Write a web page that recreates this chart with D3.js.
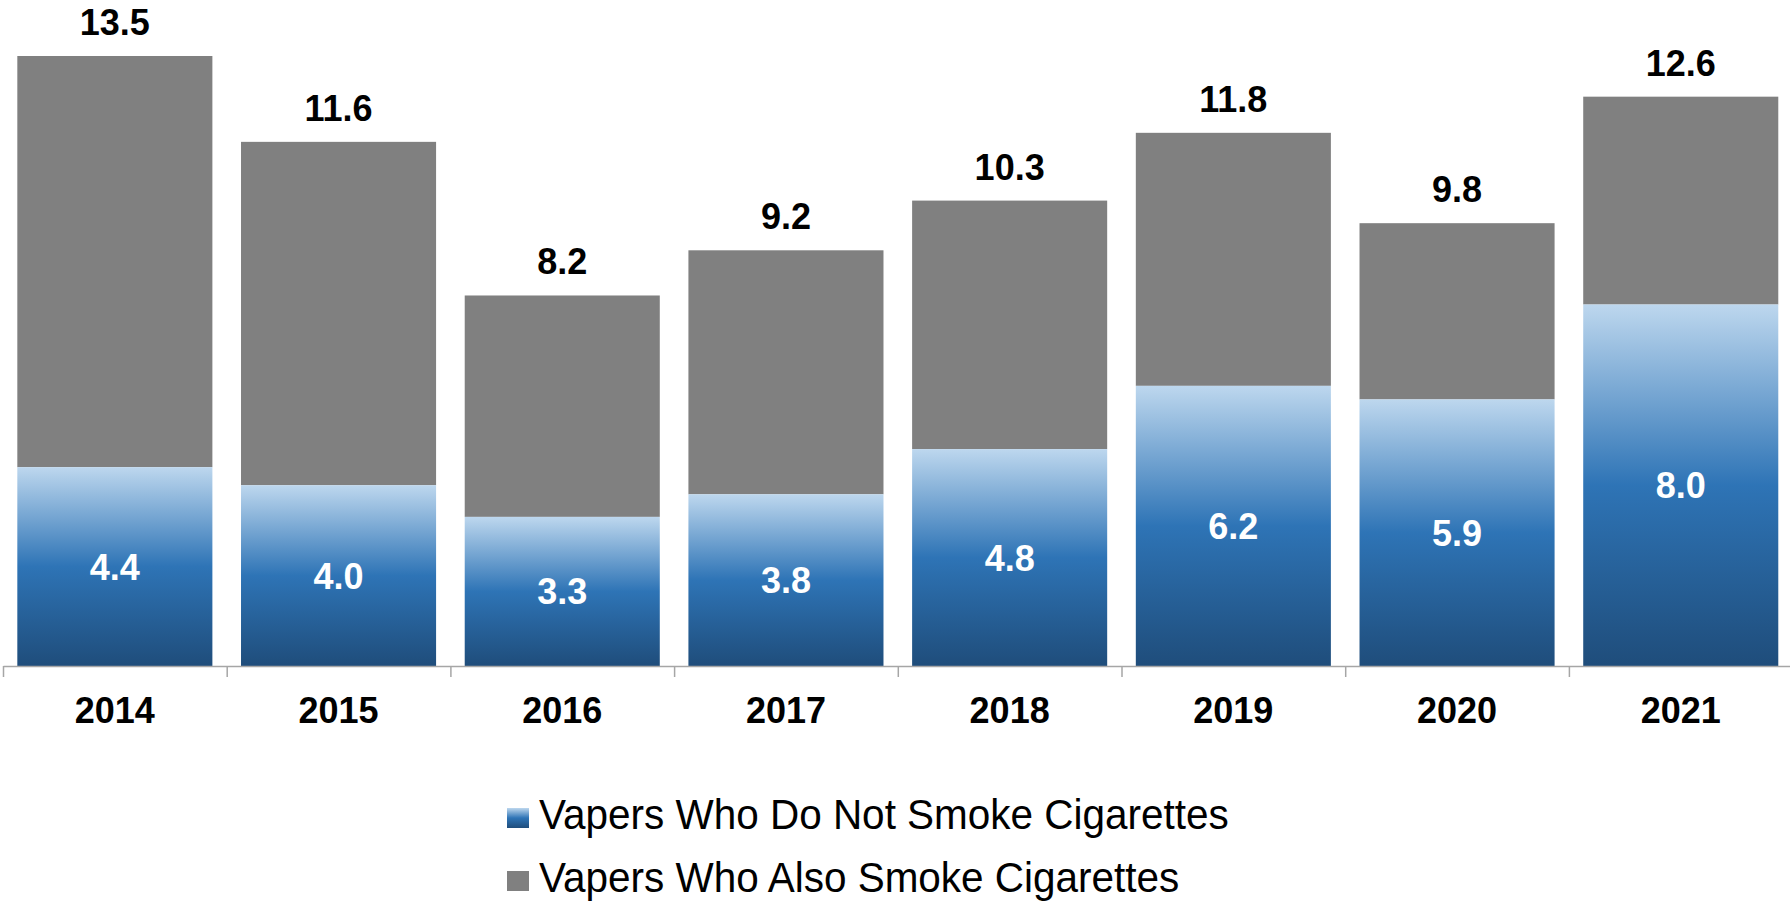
<!DOCTYPE html>
<html>
<head>
<meta charset="utf-8">
<script src="https://cdn.jsdelivr.net/npm/d3@7"></script>
<style>
  html, body { margin: 0; padding: 0; background: #ffffff; }
  svg { display: block; }
  text { font-family: Arial, "Liberation Sans", sans-serif; }
</style>
</head>
<body>
<svg id="chart" width="1790" height="901"></svg>
<script>
// ---- data ----
const years = ["2014", "2015", "2016", "2017", "2018", "2019", "2020", "2021"];
const notSmoke = [4.4, 4.0, 3.3, 3.8, 4.8, 6.2, 5.9, 8.0];
const alsoSmoke = [9.1, 7.6, 4.9, 5.4, 5.5, 5.6, 3.9, 4.6];
const totals = [13.5, 11.6, 8.2, 9.2, 10.3, 11.8, 9.8, 12.6];
const seriesNames = ["Vapers Who Do Not Smoke Cigarettes", "Vapers Who Also Smoke Cigarettes"];

// ---- layout ----
const svg = d3.select("#chart");
const x0 = 3, step = 223.7, baseY = 666;
const x = d3.scaleBand().domain(years).range([x0, x0 + step * years.length])
  .paddingInner(0.128).paddingOuter(0.064);
const y = d3.scaleLinear().domain([0, 13.5]).range([baseY, 56]);

const defs = svg.append("defs");
const grad = defs.append("linearGradient").attr("id", "blueGrad")
  .attr("x1", 0).attr("y1", 0).attr("x2", 0).attr("y2", 1);
grad.append("stop").attr("offset", "0%").attr("stop-color", "#bdd7ee");
grad.append("stop").attr("offset", "50%").attr("stop-color", "#2e74b6");
grad.append("stop").attr("offset", "100%").attr("stop-color", "#1f4d7b");

const rows = years.map((yr, i) => ({ yr, a: notSmoke[i], b: alsoSmoke[i], t: totals[i] }));

// gray (also smoke) segments on top
svg.append("g").selectAll("rect").data(rows).join("rect")
  .attr("x", d => x(d.yr)).attr("width", x.bandwidth())
  .attr("y", d => y(d.a + d.b)).attr("height", d => y(d.a) - y(d.a + d.b))
  .attr("fill", "#808080");

// blue (do not smoke) segments
svg.append("g").selectAll("rect").data(rows).join("rect")
  .attr("x", d => x(d.yr)).attr("width", x.bandwidth())
  .attr("y", d => y(d.a)).attr("height", d => y(0) - y(d.a))
  .attr("fill", "url(#blueGrad)");

// inner labels
svg.append("g").selectAll("text").data(rows).join("text")
  .attr("x", d => x(d.yr) + x.bandwidth() / 2)
  .attr("y", d => (y(d.a) + y(0)) / 2 + 13)
  .attr("text-anchor", "middle").attr("fill", "#ffffff")
  .attr("font-size", 36).attr("font-weight", "bold")
  .text(d => d.a.toFixed(1));

// total labels
svg.append("g").selectAll("text").data(rows).join("text")
  .attr("x", d => x(d.yr) + x.bandwidth() / 2)
  .attr("y", d => y(d.t) - 21)
  .attr("text-anchor", "middle").attr("fill", "#000000")
  .attr("font-size", 36).attr("font-weight", "bold")
  .text(d => d.t.toFixed(1));

// axis with boundary ticks
const xb = d3.scaleLinear().domain([0, years.length]).range([x0, x0 + step * years.length]);
const axisG = svg.append("g").attr("transform", `translate(0,${baseY})`)
  .call(d3.axisBottom(xb).tickValues(d3.range(0, years.length + 1))
    .tickFormat("").tickSize(11).tickSizeOuter(0));
axisG.select(".domain").attr("stroke", "#a6a6a6").attr("stroke-width", 1.5);
axisG.selectAll(".tick line").attr("stroke", "#a6a6a6").attr("stroke-width", 1.5);

// year labels
svg.append("g").selectAll("text").data(years).join("text")
  .attr("x", d => x(d) + x.bandwidth() / 2)
  .attr("y", 723)
  .attr("text-anchor", "middle").attr("fill", "#000000")
  .attr("font-size", 36).attr("font-weight", "bold")
  .text(d => d);

// legend
const legend = svg.append("g");
const fills = ["url(#blueGrad)", "#808080"];
const ly = [829, 892];
seriesNames.forEach((name, i) => {
  legend.append("rect").attr("x", 507).attr("y", ly[i] - 21).attr("width", 22).attr("height", 20)
    .attr("fill", fills[i]);
});
const texts = seriesNames.map((name, i) =>
  legend.append("text").attr("font-size", 42).attr("fill", "#000000")
    .attr("x", 0).attr("y", 0).text(name)
);
const natural = texts[0].node().getComputedTextLength();
const sx = 690 / natural;
texts.forEach((t, i) => {
  t.attr("transform", `translate(539,${ly[i]}) scale(${sx},1)`);
});
</script>
</body>
</html>
